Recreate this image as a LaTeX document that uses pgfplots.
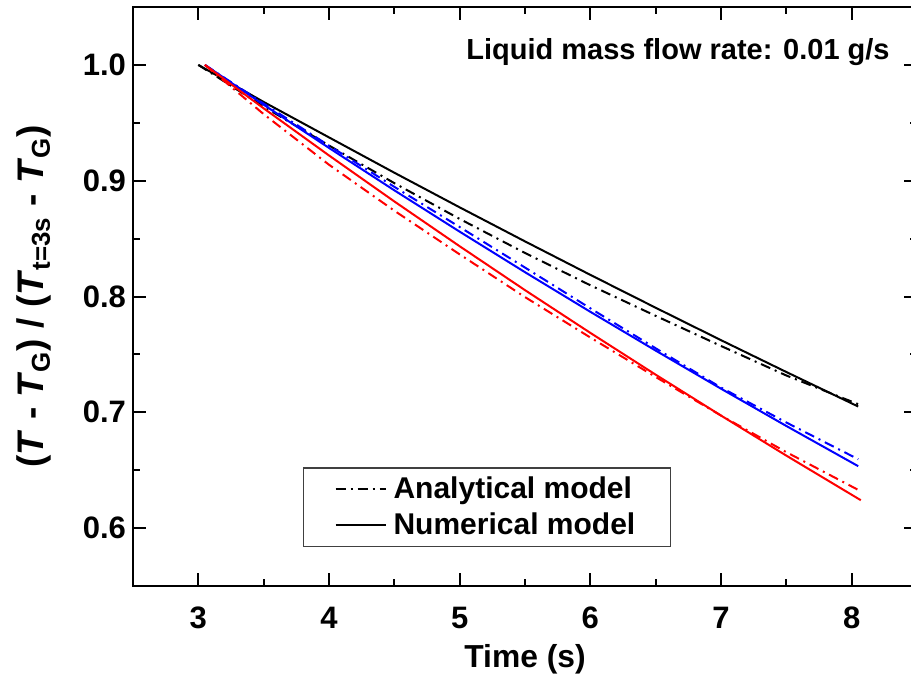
\documentclass[border=0pt]{standalone}
\usepackage{fontspec}
\setmainfont{Liberation Sans}
\usepackage{pgfplots}
\pgfplotsset{compat=1.18}

\tikzset{dashdot/.style={dash pattern=on 5pt off 2.5pt on 1pt off 2.5pt}}

\begin{document}
\begin{tikzpicture}
\begin{axis}[
  name=ax,
  scale only axis,
  width=392pt, height=289.5pt,
  xmin=2.5, xmax=8.5, ymin=0.55, ymax=1.05,
  xtick={3,4,5,6,7,8}, ytick={0.6,0.7,0.8,0.9,1.0},
  minor x tick num=1, minor y tick num=1,
  tick align=inside, xtick pos=both, ytick pos=both,
  xticklabel pos=left, yticklabel pos=left,
  major tick length=6.5pt, minor tick length=3.5pt,
  axis line style={line width=1pt},
  every tick/.style={black, line width=1pt},
  /pgf/number format/assume math mode=true,
  yticklabel style={/pgf/number format/.cd, fixed, fixed zerofill, precision=1},
  tick label style={font=\fontsize{15.5}{18}\selectfont\bfseries},
  xticklabel style={yshift=-7pt},
  xlabel={Time (s)},
  ylabel={(\textit{T} - \textit{T}\textsubscript{G}) / (\textit{T}\textsubscript{t=3s} - \textit{T}\textsubscript{G})},
  every axis x label/.style={at={(rel axis cs:0.5,0)}, anchor=base, yshift=-40.5pt,
    font=\fontsize{15.9}{18}\selectfont\bfseries},
  every axis y label/.style={at={(rel axis cs:-0.126,0.5)}, rotate=90, anchor=center,
    font=\fontsize{18.5}{21}\selectfont\bfseries},
  legend image code/.code={\draw[#1] (0pt,0pt) -- (25pt,0pt);},
  legend cell align=left,
  legend style={at={(0.2168,0.0674)}, anchor=south west, draw=black!75, line width=0.6pt,
    font=\fontsize{15}{18}\selectfont\bfseries, inner xsep=15.5pt, inner ysep=2.5pt,
    row sep=1.5pt, column sep=1.5pt},
]
\addlegendimage{black, line width=1pt, dashdot}
\addlegendentry{Analytical model}
\addlegendimage{black, line width=1pt}
\addlegendentry{Numerical model}

% black: numerical (solid) and analytical (dash-dot)
\addplot[forget plot, black, line width=1pt] coordinates {
(3,1.0) (3.5,0.968) (4,0.9374) (4.5,0.9069) (5,0.877) (5.5,0.8476)
(6,0.8187) (6.5,0.7903) (7,0.7623) (7.5,0.7348) (8.05,0.705)};
\addplot[forget plot, black, line width=1pt, dashdot] coordinates {
(3,1.0) (3.5,0.964) (4,0.9304) (4.5,0.8979) (5,0.867) (5.5,0.8376)
(6,0.8097) (6.5,0.7833) (7,0.7573) (7.5,0.7318) (8.05,0.707)};

% blue
\addplot[forget plot, blue, line width=1pt] coordinates {
(3.05,1.0) (3.5,0.9656) (4,0.9283) (4.5,0.8917) (5,0.856) (5.5,0.821)
(6,0.7868) (6.5,0.7533) (7,0.7204) (7.5,0.6882) (8.05,0.6535)};
\addplot[forget plot, blue, line width=1pt, dashdot] coordinates {
(3.05,1.0) (3.5,0.9666) (4,0.9303) (4.5,0.8947) (5,0.86) (5.5,0.825)
(6,0.7898) (6.5,0.7553) (7,0.7214) (7.5,0.6912) (8.05,0.6595)};

% red
\addplot[forget plot, red, line width=1pt] coordinates {
(3.05,1.0) (3.5,0.9625) (4,0.9218) (4.5,0.8821) (5,0.8434) (5.5,0.8055)
(6,0.7686) (6.5,0.7325) (7,0.6972) (7.5,0.6626) (8.07,0.6241)};
\addplot[forget plot, red, line width=1pt, dashdot] coordinates {
(3.05,1.0) (3.5,0.9575) (4,0.9138) (4.5,0.8741) (5,0.8364) (5.5,0.7995)
(6,0.7646) (6.5,0.7305) (7,0.6972) (7.5,0.6656) (8.05,0.633)};

\node[anchor=base east, inner sep=0pt, font=\fontsize{14.5}{17}\selectfont\bfseries]
  at (rel axis cs:0.9656,0.9085) {Liquid mass flow rate: 0.01 g/s};
\end{axis}
\pgfresetboundingbox
\path[use as bounding box] ([xshift=-66.5pt,yshift=-47.5pt]ax.south west)
  rectangle ([xshift=-3pt,yshift=3.5pt]ax.north east);
\end{tikzpicture}
\end{document}
